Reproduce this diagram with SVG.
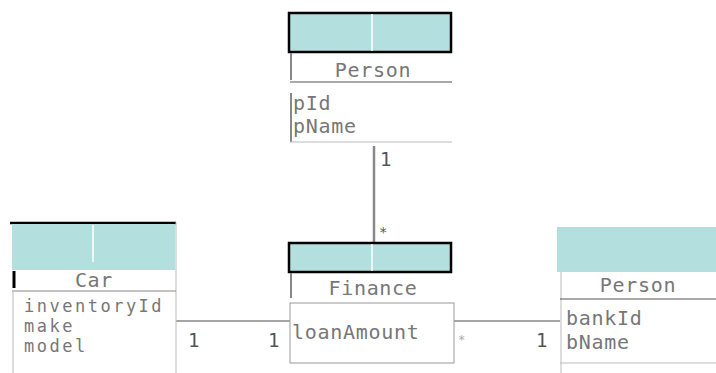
<svg xmlns="http://www.w3.org/2000/svg" width="716" height="373" viewBox="0 0 716 373">
<style>
.hd{fill:#b4dfdf}
.hb{fill:#b4dfdf;stroke:#000;stroke-width:2.5}
.sep{stroke:#fff;stroke-width:1.5}
.ln{stroke:#888;stroke-width:1.5;fill:none}
.dk{stroke:#555;stroke-width:1.5;fill:none}
.lt{stroke:#bbb;stroke-width:1;fill:none}
.t{font-family:"DejaVu Sans Mono",monospace;font-size:20px;letter-spacing:0.7px;fill:#777}
.ts{font-family:"DejaVu Sans Mono",monospace;font-size:17px;letter-spacing:2.5px;fill:#777}
.tc{font-family:"DejaVu Sans Mono",monospace;font-size:20px;letter-spacing:0.7px;fill:#777;text-anchor:middle}
.m{font-family:"DejaVu Sans Mono",monospace;font-size:19px;fill:#555}
</style>
<rect width="716" height="373" fill="#fff"/>
<g id="connectors">
<line class="ln" x1="374" y1="146" x2="374" y2="242" style="stroke-width:2.5"/>
<text class="m" x="380" y="166">1</text>
<text class="m" x="379" y="237" style="font-size:14px">*</text>
<line class="ln" x1="176" y1="321" x2="290" y2="321"/>
<text class="m" x="188" y="347">1</text>
<text class="m" x="268" y="347">1</text>
<line class="ln" x1="454" y1="321" x2="560" y2="321"/>
<text class="m" x="458" y="344" style="font-size:12px;fill:#aaa">*</text>
<text class="m" x="536" y="347">1</text>
</g>
<g id="person-top">
<rect class="hb" x="289" y="13" width="162" height="39"/>
<line class="sep" x1="372" y1="14" x2="372" y2="51"/>
<line class="ln" x1="291" y1="53" x2="291" y2="80" style="stroke-width:2"/>
<text class="tc" x="373" y="77">Person</text>
<line class="dk" x1="290" y1="82" x2="452" y2="82" style="stroke-width:1"/>
<line class="ln" x1="291" y1="93" x2="291" y2="142" style="stroke-width:2"/>
<line class="lt" x1="290" y1="142" x2="452" y2="142"/>
<text class="t" x="293" y="110">pId</text>
<text class="t" x="293" y="133">pName</text>
</g>
<g id="car">
<line x1="10" y1="223" x2="176" y2="223" stroke="#000" stroke-width="2.5"/>
<rect class="hd" x="12" y="224" width="163" height="46"/>
<line class="sep" x1="93" y1="225" x2="93" y2="262"/>
<line x1="14" y1="271" x2="14" y2="288" stroke="#000" stroke-width="3"/>
<line class="lt" x1="176" y1="222" x2="176" y2="373"/>
<text class="tc" x="94" y="287">Car</text>
<line class="dk" x1="12" y1="291" x2="176" y2="291" style="stroke-width:1;stroke:#888"/>
<line class="lt" x1="13" y1="292" x2="13" y2="373"/>
<text class="ts" x="24" y="312">inventoryId</text>
<text class="ts" x="24" y="332">make</text>
<text class="ts" x="24" y="352">model</text>
</g>
<g id="finance">
<rect class="hb" x="289" y="243" width="162" height="29"/>
<line class="sep" x1="372" y1="244" x2="372" y2="271"/>
<line class="ln" x1="291" y1="273" x2="291" y2="298" style="stroke-width:2"/>
<text class="tc" x="373" y="295">Finance</text>
<rect x="290" y="303" width="164" height="60" fill="#fff" stroke="#999" stroke-width="1"/>
<text class="t" x="292" y="339">loanAmount</text>
</g>
<g id="person-right">
<rect class="hd" x="557" y="227" width="159" height="45"/>
<line class="lt" x1="561" y1="272" x2="561" y2="373"/>
<text class="tc" x="638" y="292">Person</text>
<line class="dk" x1="560" y1="299" x2="716" y2="299" style="stroke-width:1"/>
<line class="lt" x1="560" y1="363" x2="716" y2="363"/>
<text class="t" x="566" y="325">bankId</text>
<text class="t" x="566" y="349">bName</text>
</g>
</svg>
